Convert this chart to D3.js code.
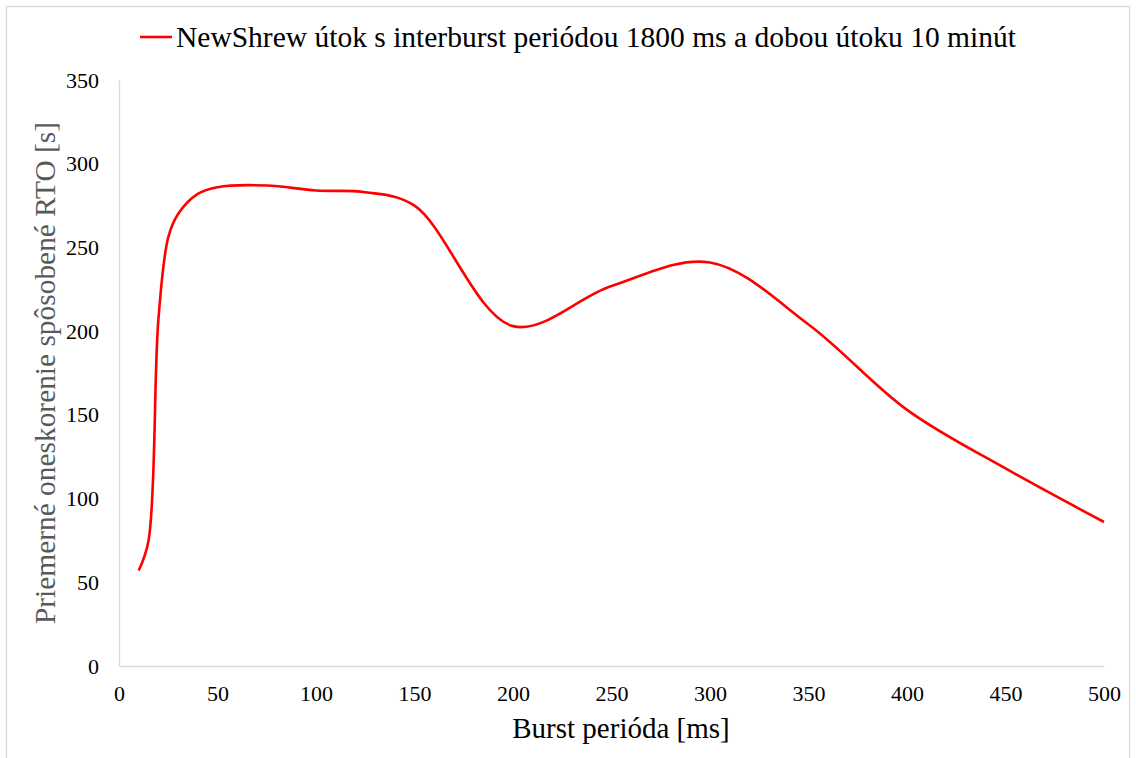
<!doctype html>
<html lang="sk">
	<head>
		<meta charset="UTF-8">
		<title>NewShrew RTO</title>
		<style>
			body { margin: 0; background: #fff; }
			svg { font-family: "Liberation Serif", "Times New Roman", serif; }
			.axis path { stroke: #d9d9d9; stroke-width: 1.3; }
			.axis text { fill: #000; font-size: 22px; }
			.line { fill: none; stroke: #ff0000; stroke-width: 2.6; }
		</style>
	</head>
	<body>
		<svg></svg>

		<script src="https://d3js.org/d3.v7.min.js"></script>
		<script>

			// Data
			var burstPeriod = [10, 15, 20, 25, 30, 40, 50, 75, 100, 125, 150, 200, 250, 300, 350, 400, 450, 500];
			var rtoDelay = [57, 75, 207, 256, 270, 282, 286, 287, 284, 283, 275, 203, 227, 241, 204, 153, 118, 86];
			var xTicks = [0, 50, 100, 150, 200, 250, 300, 350, 400, 450, 500];
			var yTicks = [0, 50, 100, 150, 200, 250, 300, 350];
			var legendLabel = "NewShrew útok s interburst periódou 1800 ms a dobou útoku 10 minút";
			var xTitle = "Burst perióda [ms]";
			var yTitle = "Priemerné oneskorenie spôsobené RTO [s]";

			var svgWidth = 1136, svgHeight = 758;
			var plotLeft = 119, plotRight = 1104, plotTop = 80, plotBottom = 666;

			var svg = d3.select("svg")
				.attr("width", svgWidth)
				.attr("height", svgHeight);

			// outer chart border
			svg.append("rect")
				.attr("x", 6.5).attr("y", 6.5)
				.attr("width", 1123).attr("height", 800)
				.attr("fill", "none")
				.attr("stroke", "#d9d9d9")
				.attr("stroke-width", 1.3);

			var x = d3.scaleLinear().domain([0, 500]).range([plotLeft, plotRight]);
			var y = d3.scaleLinear().domain([0, 350]).range([plotBottom, plotTop]);

			svg.append("g")
				.attr("class", "axis")
				.attr("transform", "translate(0," + plotBottom + ")")
				.call(d3.axisBottom(x).tickValues(xTicks).tickSize(0).tickPadding(19));

			svg.append("g")
				.attr("class", "axis")
				.attr("transform", "translate(" + plotLeft + ",0)")
				.call(d3.axisLeft(y).tickValues(yTicks).tickSize(0).tickPadding(20));

			svg.selectAll(".axis").attr("font-family", null).attr("font-size", null);

			// the series, smoothed like the spreadsheet line
			var points = burstPeriod.map(function(d, i) { return [d, rtoDelay[i]]; });
			var line = d3.line()
				.x(function(d) { return x(d[0]); })
				.y(function(d) { return y(d[1]); })
				.curve(d3.curveCatmullRom.alpha(0.5));

			svg.append("path")
				.datum(points)
				.attr("class", "line")
				.attr("d", line);

			// legend
			svg.append("line")
				.attr("x1", 140).attr("x2", 172)
				.attr("y1", 37).attr("y2", 37)
				.attr("stroke", "#ff0000")
				.attr("stroke-width", 2.6);
			svg.append("text")
				.attr("x", 176).attr("y", 47)
				.attr("font-size", 29.5)
				.text(legendLabel);

			// axis titles
			svg.append("text")
				.attr("x", 621).attr("y", 738)
				.attr("text-anchor", "middle")
				.attr("font-size", 29)
				.text(xTitle);

			svg.append("text")
				.attr("transform", "translate(55,373) rotate(-90)")
				.attr("text-anchor", "middle")
				.attr("font-size", 29.4)
				.attr("fill", "#595959")
				.text(yTitle);

		</script>
	</body>
</html>
